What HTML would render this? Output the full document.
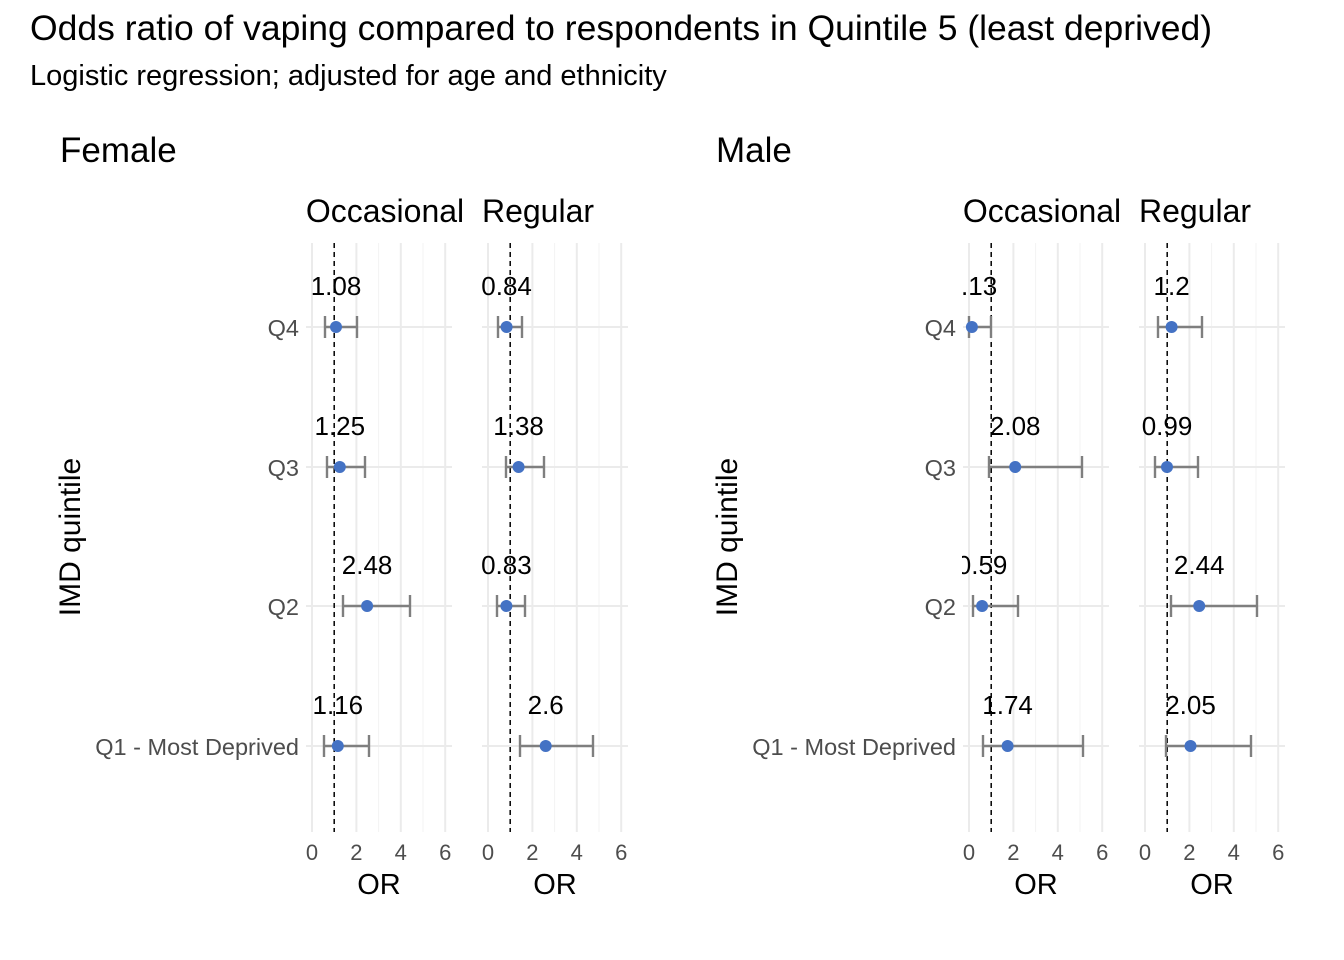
<!DOCTYPE html>
<html><head><meta charset="utf-8"><style>body{margin:0;background:#fff}svg{display:block}text{font-family:"Liberation Sans",sans-serif}</style></head><body>
<svg width="1344" height="960" viewBox="0 0 1344 960" xmlns="http://www.w3.org/2000/svg">
<defs>
<clipPath id="c1"><rect x="305" y="240" width="148" height="592"/></clipPath>
<clipPath id="c2"><rect x="481" y="240" width="148" height="592"/></clipPath>
<clipPath id="c3"><rect x="962" y="240" width="148" height="592"/></clipPath>
<clipPath id="c4"><rect x="1138" y="240" width="148" height="592"/></clipPath>
</defs>
<text x="30" y="40" font-size="35.5" fill="#000">Odds ratio of vaping compared to respondents in Quintile 5 (least deprived)</text>
<text x="30" y="85" font-size="29" fill="#000">Logistic regression; adjusted for age and ethnicity</text>
<text x="60" y="162" font-size="35">Female</text>
<text x="716" y="162" font-size="35">Male</text>
<g font-size="32" text-anchor="middle">
<text x="385" y="222">Occasional</text><text x="538" y="222">Regular</text>
<text x="1042" y="222">Occasional</text><text x="1195" y="222">Regular</text>
</g>
<g font-size="29" text-anchor="middle">
<text x="379" y="894">OR</text><text x="555" y="894">OR</text>
<text x="1036" y="894">OR</text><text x="1212" y="894">OR</text>
</g>
<text transform="translate(80,537) rotate(-90)" font-size="30" text-anchor="middle">IMD quintile</text>
<text transform="translate(737,537) rotate(-90)" font-size="30" text-anchor="middle">IMD quintile</text>
<g font-size="23.5" fill="#4d4d4d" text-anchor="end">
<text x="299" y="336">Q4</text><text x="299" y="476">Q3</text><text x="299" y="615">Q2</text><text x="299" y="755">Q1 - Most Deprived</text>
<text x="956" y="336">Q4</text><text x="956" y="476">Q3</text><text x="956" y="615">Q2</text><text x="956" y="755">Q1 - Most Deprived</text>
</g>

<!-- Panel 1 -->
<g clip-path="url(#c1)">
<g stroke="#f3f3f3" stroke-width="1"><line x1="334.2" x2="334.2" y1="243" y2="832"/><line x1="378.6" x2="378.6" y1="243" y2="832"/><line x1="423" x2="423" y1="243" y2="832"/></g>
<g stroke="#ebebeb" stroke-width="2"><line x1="312" x2="312" y1="243" y2="832"/><line x1="356.4" x2="356.4" y1="243" y2="832"/><line x1="400.8" x2="400.8" y1="243" y2="832"/><line x1="445.2" x2="445.2" y1="243" y2="832"/>
<line x1="306" x2="452" y1="327" y2="327"/><line x1="306" x2="452" y1="467" y2="467"/><line x1="306" x2="452" y1="606" y2="606"/><line x1="306" x2="452" y1="746" y2="746"/></g>
<line x1="334.2" x2="334.2" y1="243" y2="832" stroke="#000" stroke-width="1.5" stroke-dasharray="5,4"/>
<g stroke="#7f7f7f" stroke-width="2.4" fill="none">
<path d="M325 327H357M325 316V338M357 316V338"/>
<path d="M327 467H365M327 456V478M365 456V478"/>
<path d="M343 606H410M343 595V617M410 595V617"/>
<path d="M324 746H369M324 735V757M369 735V757"/>
</g>
<g fill="#4472c4"><circle cx="336" cy="327" r="6"/><circle cx="339.8" cy="467" r="6"/><circle cx="367.1" cy="606" r="6"/><circle cx="337.8" cy="746" r="6"/></g>
<g font-size="26" text-anchor="middle"><text x="336" y="295">1.08</text><text x="339.8" y="435">1.25</text><text x="367.1" y="574">2.48</text><text x="337.8" y="714">1.16</text></g>
</g>

<!-- Panel 2 -->
<g clip-path="url(#c2)">
<g stroke="#f3f3f3" stroke-width="1"><line x1="510.2" x2="510.2" y1="243" y2="832"/><line x1="554.6" x2="554.6" y1="243" y2="832"/><line x1="599" x2="599" y1="243" y2="832"/></g>
<g stroke="#ebebeb" stroke-width="2"><line x1="488" x2="488" y1="243" y2="832"/><line x1="532.4" x2="532.4" y1="243" y2="832"/><line x1="576.8" x2="576.8" y1="243" y2="832"/><line x1="621.2" x2="621.2" y1="243" y2="832"/>
<line x1="482" x2="628" y1="327" y2="327"/><line x1="482" x2="628" y1="467" y2="467"/><line x1="482" x2="628" y1="606" y2="606"/><line x1="482" x2="628" y1="746" y2="746"/></g>
<line x1="510.2" x2="510.2" y1="243" y2="832" stroke="#000" stroke-width="1.5" stroke-dasharray="5,4"/>
<g stroke="#7f7f7f" stroke-width="2.4" fill="none">
<path d="M498 327H522M498 316V338M522 316V338"/>
<path d="M506 467H544M506 456V478M544 456V478"/>
<path d="M497 606H525M497 595V617M525 595V617"/>
<path d="M520 746H593M520 735V757M593 735V757"/>
</g>
<g fill="#4472c4"><circle cx="506.6" cy="327" r="6"/><circle cx="518.6" cy="467" r="6"/><circle cx="506.4" cy="606" r="6"/><circle cx="545.7" cy="746" r="6"/></g>
<g font-size="26" text-anchor="middle"><text x="506.6" y="295">0.84</text><text x="518.6" y="435">1.38</text><text x="506.4" y="574">0.83</text><text x="545.7" y="714">2.6</text></g>
</g>

<!-- Panel 3 -->
<g clip-path="url(#c3)">
<g stroke="#f3f3f3" stroke-width="1"><line x1="991.2" x2="991.2" y1="243" y2="832"/><line x1="1035.6" x2="1035.6" y1="243" y2="832"/><line x1="1080" x2="1080" y1="243" y2="832"/></g>
<g stroke="#ebebeb" stroke-width="2"><line x1="969" x2="969" y1="243" y2="832"/><line x1="1013.4" x2="1013.4" y1="243" y2="832"/><line x1="1057.8" x2="1057.8" y1="243" y2="832"/><line x1="1102.2" x2="1102.2" y1="243" y2="832"/>
<line x1="963" x2="1109" y1="327" y2="327"/><line x1="963" x2="1109" y1="467" y2="467"/><line x1="963" x2="1109" y1="606" y2="606"/><line x1="963" x2="1109" y1="746" y2="746"/></g>
<line x1="991.2" x2="991.2" y1="243" y2="832" stroke="#000" stroke-width="1.5" stroke-dasharray="5,4"/>
<g stroke="#7f7f7f" stroke-width="2.4" fill="none">
<path d="M969 327H991M969 316V338M991 316V338"/>
<path d="M989 467H1082M989 456V478M1082 456V478"/>
<path d="M973 606H1018M973 595V617M1018 595V617"/>
<path d="M983 746H1083M983 735V757M1083 735V757"/>
</g>
<g fill="#4472c4"><circle cx="971.9" cy="327" r="6"/><circle cx="1015.2" cy="467" r="6"/><circle cx="982.1" cy="606" r="6"/><circle cx="1007.6" cy="746" r="6"/></g>
<g font-size="26" text-anchor="middle"><text x="971.9" y="295">0.13</text><text x="1015.2" y="435">2.08</text><text x="982.1" y="574">0.59</text><text x="1007.6" y="714">1.74</text></g>
</g>

<!-- Panel 4 -->
<g clip-path="url(#c4)">
<g stroke="#f3f3f3" stroke-width="1"><line x1="1167.2" x2="1167.2" y1="243" y2="832"/><line x1="1211.6" x2="1211.6" y1="243" y2="832"/><line x1="1256" x2="1256" y1="243" y2="832"/></g>
<g stroke="#ebebeb" stroke-width="2"><line x1="1145" x2="1145" y1="243" y2="832"/><line x1="1189.4" x2="1189.4" y1="243" y2="832"/><line x1="1233.8" x2="1233.8" y1="243" y2="832"/><line x1="1278.2" x2="1278.2" y1="243" y2="832"/>
<line x1="1139" x2="1285" y1="327" y2="327"/><line x1="1139" x2="1285" y1="467" y2="467"/><line x1="1139" x2="1285" y1="606" y2="606"/><line x1="1139" x2="1285" y1="746" y2="746"/></g>
<line x1="1167.2" x2="1167.2" y1="243" y2="832" stroke="#000" stroke-width="1.5" stroke-dasharray="5,4"/>
<g stroke="#7f7f7f" stroke-width="2.4" fill="none">
<path d="M1158 327H1202M1158 316V338M1202 316V338"/>
<path d="M1155 467H1198M1155 456V478M1198 456V478"/>
<path d="M1171 606H1257M1171 595V617M1257 595V617"/>
<path d="M1166 746H1251M1166 735V757M1251 735V757"/>
</g>
<g fill="#4472c4"><circle cx="1171.6" cy="327" r="6"/><circle cx="1167" cy="467" r="6"/><circle cx="1199.2" cy="606" r="6"/><circle cx="1190.5" cy="746" r="6"/></g>
<g font-size="26" text-anchor="middle"><text x="1171.6" y="295">1.2</text><text x="1167" y="435">0.99</text><text x="1199.2" y="574">2.44</text><text x="1190.5" y="714">2.05</text></g>
</g>

<g font-size="22" fill="#4d4d4d" text-anchor="middle">
<text x="312" y="860">0</text><text x="356.4" y="860">2</text><text x="400.8" y="860">4</text><text x="445.2" y="860">6</text>
<text x="488" y="860">0</text><text x="532.4" y="860">2</text><text x="576.8" y="860">4</text><text x="621.2" y="860">6</text>
<text x="969" y="860">0</text><text x="1013.4" y="860">2</text><text x="1057.8" y="860">4</text><text x="1102.2" y="860">6</text>
<text x="1145" y="860">0</text><text x="1189.4" y="860">2</text><text x="1233.8" y="860">4</text><text x="1278.2" y="860">6</text>
</g>
</svg>
</body></html>
